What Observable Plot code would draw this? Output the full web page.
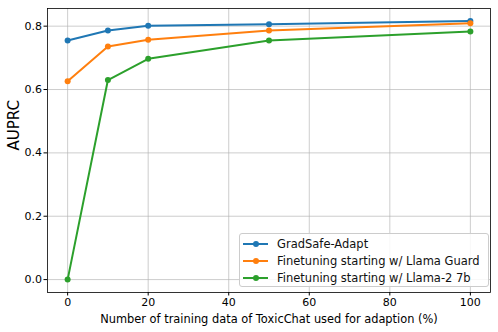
<!DOCTYPE html>
<html><head><meta charset="utf-8">
<script src="https://cdn.jsdelivr.net/npm/d3@7"></script>
<script src="https://cdn.jsdelivr.net/npm/@observablehq/plot@0.6"></script>
<style>
body{margin:0;background:#fff;font-family:"DejaVu Sans",sans-serif;}
#wrap{position:relative;width:498px;height:332px;}
#legend{position:absolute;left:239px;top:233px;width:250px;height:54px;border:1px solid #ccc;border-radius:3px;background:rgba(255,255,255,0.85);box-sizing:border-box;padding:0 0 0 3px;font-size:11.5px;color:#111;}
.row{display:flex;align-items:center;height:17px;}
.row:first-child{margin-top:1px;}
.sw{position:relative;width:25px;height:10px;margin-right:9px;}
.sw .ln{position:absolute;left:0;right:0;top:4px;height:2px;}
.sw .dt{position:absolute;left:9.5px;top:2px;width:6px;height:6px;border-radius:50%;}
</style></head>
<body><div id="wrap"><div id="legend"></div></div>
<script>
const xs = [0, 10, 20, 50, 100];
const seriesNames = ["GradSafe-Adapt", "Finetuning starting w/ Llama Guard", "Finetuning starting w/ Llama-2 7b"];
const gradsafe = [0.755, 0.786, 0.801, 0.806, 0.816];
const llamaGuard = [0.626, 0.736, 0.757, 0.786, 0.809];
const llama2 = [0.0, 0.630, 0.697, 0.755, 0.783];
const colors = ["#1f77b4", "#ff7f0e", "#2ca02c"];
const xTicks = [0, 20, 40, 60, 80, 100];
const yTicks = [0.0, 0.2, 0.4, 0.6, 0.8];

const all = [gradsafe, llamaGuard, llama2];
const data = [];
all.forEach((vals, s) => vals.forEach((v, i) => data.push({x: xs[i], y: v, s: seriesNames[s]})));

const chart = Plot.plot({
  width: 498, height: 332,
  marginLeft: 47, marginRight: 8, marginTop: 8, marginBottom: 40,
  style: {fontFamily: "DejaVu Sans, sans-serif", fontSize: "11px", color: "#000", background: "#fff"},
  x: {domain: [-5, 105], ticks: xTicks, tickSize: 3.5, tickPadding: 2, label: null},
  y: {domain: [-0.04075, 0.85575], ticks: yTicks, tickSize: 3.5, tickPadding: 2, tickFormat: d3.format(".1f"), label: null},
  color: {domain: seriesNames, range: colors},
  marks: [
    Plot.gridX(xTicks, {stroke: "#b0b0b0", strokeOpacity: 0.8, strokeWidth: 0.8}),
    Plot.gridY(yTicks, {stroke: "#b0b0b0", strokeOpacity: 0.8, strokeWidth: 0.8}),
    Plot.line(data, {x: "x", y: "y", z: "s", stroke: "s", strokeWidth: 2}),
    Plot.dot(data, {x: "x", y: "y", fill: "s", r: 3}),
    Plot.frame({stroke: "#000", strokeWidth: 0.8}),
    Plot.axisX({ticks: xTicks, tickSize: 3.5, tickPadding: 2, fontSize: 11, label: null}),
    Plot.axisY({ticks: yTicks, tickSize: 3.5, tickPadding: 2, fontSize: 11, tickFormat: d3.format(".1f"), label: null}),
    Plot.text(["Number of training data of ToxicChat used for adaption (%)"], {frameAnchor: "bottom", dy: 30, fontSize: 11.4, fill: "#000"}),
    Plot.text(["AUPRC"], {frameAnchor: "left", dx: -33, rotate: -90, fontSize: 15, fill: "#000"})
  ]
});
document.getElementById("wrap").prepend(chart);
const lg = document.getElementById("legend");
seriesNames.forEach((n, i) => {
  const r = document.createElement("div"); r.className = "row";
  r.innerHTML = `<div class="sw"><div class="ln" style="background:${colors[i]}"></div><div class="dt" style="background:${colors[i]}"></div></div><span>${n}</span>`;
  lg.appendChild(r);
});
</script></body></html>
